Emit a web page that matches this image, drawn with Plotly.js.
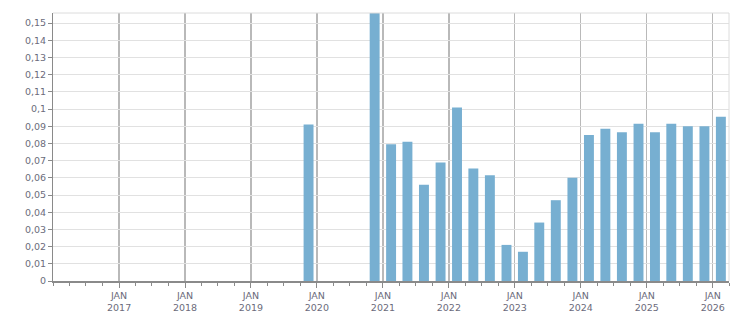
<!DOCTYPE html>
<html>
<head>
<meta charset="utf-8">
<script src="https://cdn.plot.ly/plotly-3.0.1.min.js"></script>
<style>html,body{margin:0;padding:0;background:#fff;}#chart{width:751px;height:313px;}</style>
</head>
<body>
<div id="chart"></div>
<script>
// Quarter start dates (bars are drawn at the middle of each quarter)
const quarters = [
  '2019-10-01', '2020-10-01',
  '2021-01-01', '2021-04-01', '2021-07-01', '2021-10-01',
  '2022-01-01', '2022-04-01', '2022-07-01', '2022-10-01',
  '2023-01-01', '2023-04-01', '2023-07-01', '2023-10-01',
  '2024-01-01', '2024-04-01', '2024-07-01', '2024-10-01',
  '2025-01-01', '2025-04-01', '2025-07-01', '2025-10-01',
  '2026-01-01'
];
const values = [
  0.091, 0.156,
  0.0795, 0.081, 0.056, 0.069,
  0.101, 0.0655, 0.0615, 0.021,
  0.017, 0.034, 0.047, 0.060,
  0.085, 0.0885, 0.0865, 0.0915,
  0.0865, 0.0915, 0.090, 0.090,
  0.0955
];
const yearTicks = ['2017-01-01','2018-01-01','2019-01-01','2020-01-01','2021-01-01','2022-01-01','2023-01-01','2024-01-01','2025-01-01','2026-01-01'];
const yearLabels = ['JAN<br>2017','JAN<br>2018','JAN<br>2019','JAN<br>2020','JAN<br>2021','JAN<br>2022','JAN<br>2023','JAN<br>2024','JAN<br>2025','JAN<br>2026'];

const textColor = '#6b6b7b';
const DAY = 86400000;

const trace = {
  type: 'bar',
  x: quarters,
  y: values,
  xperiod: 'M3',
  xperiod0: '2016-01-01',
  xperiodalignment: 'middle',
  width: 55 * DAY,
  marker: {color: '#77afd1', line: {width: 0}},
  hoverinfo: 'x+y'
};

const layout = {
  width: 751, height: 313,
  margin: {l: 53, r: 22, t: 13, b: 32, pad: 0},
  paper_bgcolor: '#fff', plot_bgcolor: '#fff',
  separators: ', ',
  showlegend: false,
  font: {family: 'DejaVu Sans, Verdana, sans-serif', size: 9.5, color: textColor},
  xaxis: {
    type: 'date',
    range: ['2016-01-01', '2026-04-01'],
    tickmode: 'array',
    tickvals: yearTicks,
    ticktext: yearLabels,
    showgrid: true, gridcolor: '#b9b9b9', gridwidth: 1.3,
    showline: true, linecolor: '#8a8a8a', linewidth: 1.5,
    ticks: 'outside', ticklen: 5, tickcolor: '#8a8a8a', tickwidth: 1,
    minor: {dtick: 'M3', tick0: '2016-01-01', ticks: 'outside', ticklen: 3, tickcolor: '#8a8a8a', showgrid: false},
    tickfont: {size: 9.5, color: textColor},
    zeroline: false, fixedrange: true
  },
  yaxis: {
    range: [0, 0.1559],
    tickmode: 'linear', tick0: 0, dtick: 0.01,
    showgrid: true, gridcolor: '#e1e1e1', gridwidth: 1,
    showline: true, linecolor: '#8a8a8a', linewidth: 1,
    ticks: 'outside', ticklen: 4, tickcolor: '#8a8a8a',
    tickfont: {size: 9.5, color: textColor},
    zeroline: false, fixedrange: true
  },
  shapes: [
    {type: 'line', xref: 'paper', yref: 'paper', x0: 0, x1: 1, y0: 1, y1: 1, line: {color: '#dcdcdc', width: 1}},
    {type: 'line', xref: 'paper', yref: 'paper', x0: 1, x1: 1, y0: 0, y1: 1, line: {color: '#dcdcdc', width: 1}}
  ]
};

Plotly.newPlot('chart', [trace], layout, {displayModeBar: false, staticPlot: true});
</script>
</body>
</html>
